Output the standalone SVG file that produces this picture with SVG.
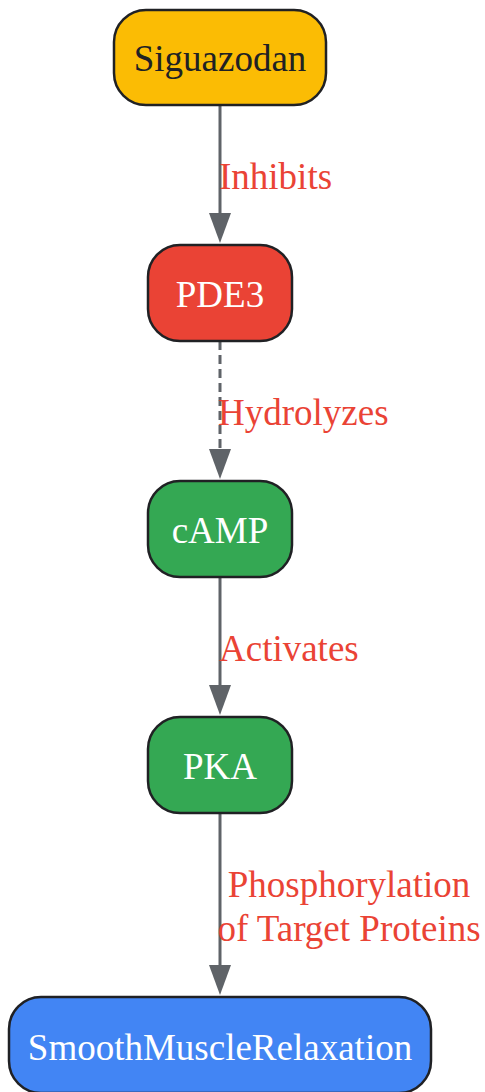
<svg xmlns="http://www.w3.org/2000/svg" width="485" height="1092" viewBox="0 0 485 1092">
<style>
.node{stroke:#202124;stroke-width:2.5}
.nt{font-family:"Liberation Serif",serif;font-size:37px;text-anchor:middle}
.lbl{font-family:"Liberation Serif",serif;font-size:37px;fill:#EA4335}
.edge{stroke:#5F6368;stroke-width:3;fill:none}
.dash{stroke-dasharray:9,5}
</style>
<defs>
<marker id="ah" markerWidth="30" markerHeight="22" refX="0" refY="11" orient="auto" markerUnits="userSpaceOnUse" viewBox="0 0 30 22">
<path d="M0,0 L30,11 L0,22 Z" fill="#5F6368"/>
</marker>
</defs>
<g id="connectors">
<line class="edge" x1="220" y1="105" x2="220" y2="213" marker-end="url(#ah)"/>
<line class="edge dash" x1="220" y1="341" x2="220" y2="449" marker-end="url(#ah)"/>
<line class="edge" x1="220" y1="577" x2="220" y2="685" marker-end="url(#ah)"/>
<line class="edge" x1="220" y1="813" x2="220" y2="965" marker-end="url(#ah)"/>
<text class="lbl" x="219" y="189">Inhibits</text>
<text class="lbl" x="218" y="425">Hydrolyzes</text>
<text class="lbl" x="219" y="661">Activates</text>
<text class="lbl" x="349" y="897" text-anchor="middle">Phosphorylation</text>
<text class="lbl" x="349" y="941" text-anchor="middle">of Target Proteins</text>
</g>
<g id="siguazodan">
<rect class="node" x="114" y="10" width="212" height="95" rx="32" fill="#FBBC04"/>
<text class="nt" x="220" y="71" fill="#202124">Siguazodan</text>
</g>
<g id="pde3">
<rect class="node" x="148" y="245" width="144" height="96" rx="32" fill="#EA4335"/>
<text class="nt" x="220" y="307" fill="#FFFFFF">PDE3</text>
</g>
<g id="camp">
<rect class="node" x="148" y="481" width="144" height="96" rx="32" fill="#34A853"/>
<text class="nt" x="220" y="543" fill="#FFFFFF">cAMP</text>
</g>
<g id="pka">
<rect class="node" x="148" y="717" width="144" height="96" rx="32" fill="#34A853"/>
<text class="nt" x="220" y="779" fill="#FFFFFF">PKA</text>
</g>
<g id="smooth">
<rect class="node" x="9" y="997" width="422" height="96" rx="32" fill="#4285F4"/>
<text class="nt" x="220" y="1060" fill="#FFFFFF">SmoothMuscleRelaxation</text>
</g>
</svg>
